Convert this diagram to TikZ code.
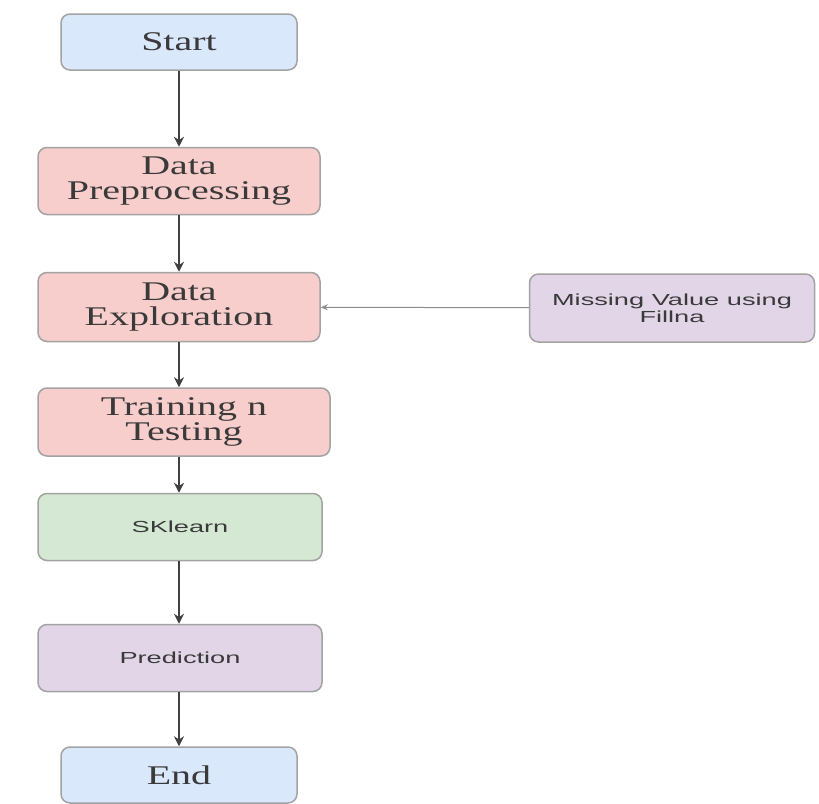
\documentclass[tikz,border=0pt]{standalone}
\usepackage{fontspec}
\usepackage{tikz}
\usepackage{xcolor}
\usetikzlibrary{arrows.meta}
\newfontfamily\wideserif[FakeStretch=1.48]{Liberation Serif}
\newfontfamily\widesans[FakeStretch=1.7]{Liberation Sans}
\definecolor{boxblue}{HTML}{DAE8FC}
\definecolor{boxred}{HTML}{F8CECC}
\definecolor{boxgreen}{HTML}{D5E8D4}
\definecolor{boxpurple}{HTML}{E1D5E7}
\definecolor{boxline}{HTML}{A3A3A3}
\definecolor{textgray}{HTML}{3A3A3A}
\tikzset{
    flow-box/.style = {draw=boxline, line width=1.5pt, rectangle, rounded corners=9pt, inner sep=0pt, align=center, text=textgray, minimum width=282pt, minimum height=67pt},
    serif-text/.style = {font=\wideserif\fontsize{27}{25}\selectfont},
    sans-text/.style = {font=\widesans\fontsize{16}{17}\selectfont},
    blue-box/.style = {flow-box, serif-text, fill=boxblue, minimum width=236pt, minimum height=56pt},
    red-box/.style = {flow-box, serif-text, fill=boxred},
    green-box/.style = {flow-box, sans-text, fill=boxgreen},
    purple-box/.style = {flow-box, sans-text, fill=boxpurple},
    flow-arrow/.style = {draw=black!75, line width=1.8pt, -{Stealth[length=10pt, width=10pt]}},
    side-arrow/.style = {draw=black!45, line width=1pt, -{Stealth[length=7pt, width=6pt]}},
}
\begin{document}
\begin{tikzpicture}
\useasboundingbox (0pt,0pt) rectangle (819pt,-803pt);
\node [blue-box] (start) at (179pt,-42pt) {Start};
\node [red-box] (preprocess) at (179pt,-181pt) {Data\\Preprocessing};
\node [red-box, minimum height=69pt] (explore) at (179pt,-307pt) {Data\\Exploration};
\node [red-box, minimum width=292pt, minimum height=68pt] (traintest) at (184pt,-422pt) {Training n\\Testing};
\node [green-box, minimum width=284pt] (sklearn) at (180pt,-527pt) {SKlearn};
\node [purple-box, minimum width=284pt] (predict) at (180pt,-658pt) {Prediction};
\node [blue-box] (finish) at (179pt,-775pt) {End};
\node [purple-box, minimum width=285pt, minimum height=68pt] (missing) at (672pt,-308pt) {Missing Value using\\Fillna};

\draw [flow-arrow] (start) -- (preprocess);
\draw [flow-arrow] (preprocess) -- (explore);
\draw [flow-arrow] (explore) -- (explore |- traintest.north);
\draw [flow-arrow] (explore |- traintest.south) -- (explore |- sklearn.north);
\draw [flow-arrow] (sklearn.south -| explore) -- (explore |- predict.north);
\draw [flow-arrow] (explore |- predict.south) -- (finish);
\draw [side-arrow] (missing) -- (explore);
\end{tikzpicture}
\end{document}
